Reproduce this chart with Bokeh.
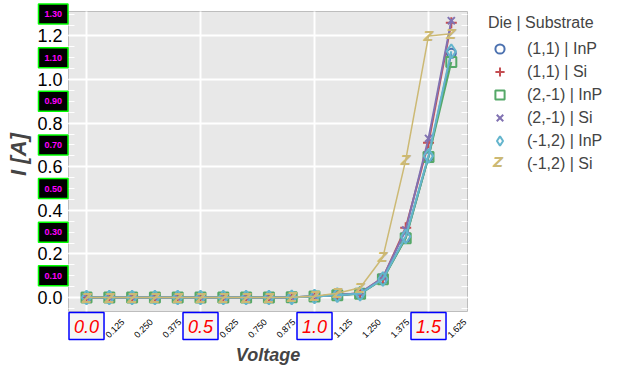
from bokeh.plotting import figure
from bokeh.models import FixedTicker, LinearAxis, Label, Legend, LegendItem, ColumnDataSource, Grid
from bokeh.core.properties import value
from bokeh.embed import file_html
from bokeh.resources import INLINE

# ---------------- data ----------------
voltage = [0.0, 0.1, 0.2, 0.3, 0.4, 0.5, 0.6, 0.7, 0.8, 0.9, 1.0, 1.1, 1.2, 1.3, 1.4, 1.5, 1.6]
i_11_inp = [0.0, 0.0, 0.0, 0.0, 0.0, 0.0, 0.0, 0.0, 0.0, 0.001, 0.005, 0.012, 0.018, 0.086, 0.274, 0.645, 1.12]
i_11_si = [0.0, 0.0, 0.0, 0.0, 0.0, 0.0, 0.0, 0.0, 0.0, 0.001, 0.005, 0.012, 0.020, 0.090, 0.320, 0.710, 1.26]
i_2m1_inp = [0.0, 0.0, 0.0, 0.0, 0.0, 0.0, 0.0, 0.0, 0.0, 0.001, 0.005, 0.011, 0.017, 0.084, 0.272, 0.645, 1.08]
i_2m1_si = [0.0, 0.0, 0.0, 0.0, 0.0, 0.0, 0.0, 0.0, 0.0, 0.001, 0.005, 0.012, 0.020, 0.092, 0.310, 0.730, 1.27]
i_m12_inp = [0.0, 0.0, 0.0, 0.0, 0.0, 0.0, 0.0, 0.0, 0.0, 0.001, 0.005, 0.011, 0.018, 0.085, 0.280, 0.650, 1.13]
i_m12_si = [0.0, 0.0, 0.0, 0.0, 0.0, 0.0, 0.0, 0.0, 0.0, 0.001, 0.006, 0.020, 0.045, 0.185, 0.630, 1.200, 1.21]

series_labels = ["(1,1) | InP", "(1,1) | Si", "(2,-1) | InP", "(2,-1) | Si", "(-1,2) | InP", "(-1,2) | Si"]
series_values = [i_11_inp, i_11_si, i_2m1_inp, i_2m1_si, i_m12_inp, i_m12_si]
series_colors = ["#4C72B0", "#C44E52", "#55A868", "#8172B2", "#64B5CD", "#CCB974"]
series_markers = ["circle", "cross", "square", "x", "diamond", "Z"]

x_minor_ticks = [0.125, 0.25, 0.375, 0.625, 0.75, 0.875, 1.125, 1.25, 1.375, 1.625]
x_minor_labels = ["0.125", "0.250", "0.375", "0.625", "0.750", "0.875", "1.125", "1.250", "1.375", "1.625"]
x_major_ticks = [0.0, 0.5, 1.0, 1.5]
x_major_labels = ["0.0", "0.5", "1.0", "1.5"]

y_ticks = [0.0, 0.2, 0.4, 0.6, 0.8, 1.0, 1.2]
y_tick_labels = ["0.0", "0.2", "0.4", "0.6", "0.8", "1.0", "1.2"]
y_minor_ticks = [-0.05, 0.0, 0.05, 0.1, 0.15, 0.2, 0.25, 0.3, 0.35, 0.4, 0.45, 0.5, 0.55, 0.6,
                 0.65, 0.7, 0.75, 0.8, 0.85, 0.9, 0.95, 1.0, 1.05, 1.1, 1.15, 1.2, 1.25, 1.3]
y_box_ticks = [0.1, 0.3, 0.5, 0.7, 0.9, 1.1, 1.3]
y_box_labels = ["0.10", "0.30", "0.50", "0.70", "0.90", "1.10", "1.30"]

FONT = "Liberation Sans"
# visible plotting area (data units) and its place on the 625x375 canvas (pixels)
X0, X1 = -0.079, 1.671
Y0, Y1 = -0.064, 1.312
W, H = 625, 375
AL, AR, AT, AB = 68, 467, 11, 311
sx = (AR - AL) / (X1 - X0)
sy = (AB - AT) / (Y1 - Y0)
XL, XR = X0 - AL / sx, X1 + (W - AR) / sx
YB, YT = Y0 - (H - AB) / sy, Y1 + AT / sy

p = figure(width=W, height=H, x_range=(XL, XR), y_range=(YB, YT),
           output_backend="svg", toolbar_location=None, min_border=0)
p.background_fill_color = "white"
p.border_fill_color = "white"
p.outline_line_color = None

# plotting-area panel
p.quad(left=[X0], right=[X1], bottom=[Y0], top=[Y1], fill_color="#E8E8E8",
       line_color="#BDBDBD", line_width=1, level="image")

# grid restricted to the plotting area
grid_ok = "cross_bounds" in Grid.properties()
p.xgrid.ticker = FixedTicker(ticks=x_major_ticks)
p.ygrid.ticker = FixedTicker(ticks=y_ticks)
for g in (p.xgrid[0], p.ygrid[0]):
    g.grid_line_color = "white" if grid_ok else None
    g.grid_line_width = 2
if grid_ok:
    p.xgrid[0].cross_bounds = (Y0, Y1)
    p.ygrid[0].cross_bounds = (X0, X1)
    p.xgrid[0].bounds = (X0, X1)
    p.ygrid[0].bounds = (Y0, Y1)
else:
    p.segment(x0=x_major_ticks, x1=x_major_ticks, y0=[Y0] * 4, y1=[Y1] * 4,
              line_color="white", line_width=2, level="underlay")
    p.segment(x0=[X0] * 7, x1=[X1] * 7, y0=y_ticks, y1=y_ticks,
              line_color="white", line_width=2, level="underlay")

# x axis: carries the title; tick labels are drawn as rotated / boxed labels below
xa = p.xaxis[0]
xa.fixed_location = Y0
xa.bounds = (X0, X1)
xa.ticker = FixedTicker(ticks=[])
xa.major_label_standoff = 0
xa.major_tick_out = 0
xa.major_tick_in = 0
xa.axis_line_color = None
xa.major_tick_line_color = None
xa.minor_tick_line_color = None
xa.axis_label = "Voltage"
xa.axis_label_text_font = FONT
xa.axis_label_text_font_size = "18px"
xa.axis_label_text_font_style = "bold italic"
xa.axis_label_standoff = 33

# y axis at the left of the plotting area
ya = p.yaxis[0]
ya.fixed_location = X0
ya.bounds = (0.0, Y1)
ya.ticker = FixedTicker(ticks=y_ticks, minor_ticks=y_minor_ticks)
ya.major_label_overrides = {t: l for t, l in zip(y_ticks, y_tick_labels)}
ya.major_label_text_font = FONT
ya.major_label_text_font_size = "18px"
ya.major_label_text_color = "black"
ya.major_label_standoff = 6
ya.axis_line_color = None
ya.major_tick_in = 6
ya.major_tick_out = 0
ya.minor_tick_in = 6
ya.minor_tick_out = 0
ya.major_tick_line_color = "white"
ya.minor_tick_line_color = "white"
ya.axis_label = "I [A]"
ya.axis_label_text_font = FONT
ya.axis_label_text_font_size = "22px"
ya.axis_label_text_font_style = "bold italic"
ya.axis_label_standoff = 3

# right-hand inward ticks
ra = LinearAxis(ticker=FixedTicker(ticks=y_ticks, minor_ticks=y_minor_ticks), fixed_location=X1)
ra.bounds = (Y0, Y1)
ra.major_label_overrides = {t: "" for t in y_ticks}
ra.major_label_standoff = 0
ra.axis_line_color = None
ra.major_tick_in = 6
ra.major_tick_out = 0
ra.minor_tick_in = 6
ra.minor_tick_out = 0
ra.major_tick_line_color = "white"
ra.minor_tick_line_color = "white"
p.add_layout(ra, "right")

# ---------------- series ----------------
items = []
for lab, vals, col, mk in zip(series_labels, series_values, series_colors, series_markers):
    src = ColumnDataSource(dict(x=voltage, y=vals))
    lw = 1.5 if mk == "Z" else 2
    p.line("x", "y", source=src, line_color=col, line_width=lw)
    if mk == "Z":
        r = p.text("x", "y", source=src, text=value("Z"), text_color=col,
                   text_font=value("DejaVu Sans"), text_font_style="bold italic",
                   text_font_size="14px", text_align="center", text_baseline="middle")
    else:
        size = {"circle": 9, "cross": 11, "square": 10, "x": 10, "diamond": 14}[mk]
        r = p.scatter("x", "y", source=src, marker=mk, size=size, line_color=col,
                      line_width=2, fill_color=None)
    items.append(LegendItem(label=lab, renderers=[r]))

LEG_X, LEG_Y = 488, 200
legend = Legend(items=items, title="Die | Substrate", location=(LEG_X, LEG_Y),
                border_line_color=None, background_fill_alpha=0.0,
                padding=5, margin=0, spacing=0, glyph_width=23, glyph_height=23,
                label_height=20, label_standoff=16,
                label_text_font=FONT, label_text_font_size="16px",
                title_text_font=FONT, title_text_font_size="16px",
                title_text_font_style="normal", title_standoff=5)
p.add_layout(legend)

# legend glyph for the "Z" series (text glyphs have no legend swatch)
p.add_layout(Label(x=LEG_X + 9.5, y=H - 161.5, x_units="screen", y_units="screen", text="Z",
                   text_font="DejaVu Sans", text_font_style="bold italic", text_font_size="14px",
                   text_color=series_colors[5], text_align="center", text_baseline="middle"))

# ---------------- tick labels ----------------
def set_pad(lb, px, py):
    try:
        lb.padding = dict(x=px, y=py)
    except Exception:
        try:
            lb.padding = max(px, py)
        except Exception:
            pass

for t, l in zip(x_minor_ticks, x_minor_labels):
    p.add_layout(Label(x=t, y=Y0 - 17 / sy, text=l, angle=0.785,
                       text_font=FONT, text_font_size="9px", text_color="black",
                       text_align="center", text_baseline="middle"))

for t, l in zip(x_major_ticks, x_major_labels):
    lb = Label(x=t, y=Y0 - 14.5 / sy, text=l,
               text_font=FONT, text_font_size="18px", text_font_style="italic",
               text_color="#FF0000", text_align="center", text_baseline="middle",
               background_fill_color="#F5F5F5", border_line_color="#0000FF",
               border_line_width=1.5)
    set_pad(lb, 5, 7)
    p.add_layout(lb)

for t, l in zip(y_box_ticks, y_box_labels):
    lb = Label(x=X0 - 0.5 / sx, y=t, text=l,
               text_font=FONT, text_font_size="9px", text_font_style="bold",
               text_color="#FF00FF", text_align="right", text_baseline="middle",
               background_fill_color="black", border_line_color="#00FF00",
               border_line_width=1.5)
    set_pad(lb, 6, 7)
    p.add_layout(lb)

open("out.html", "w").write(file_html(p, INLINE))
